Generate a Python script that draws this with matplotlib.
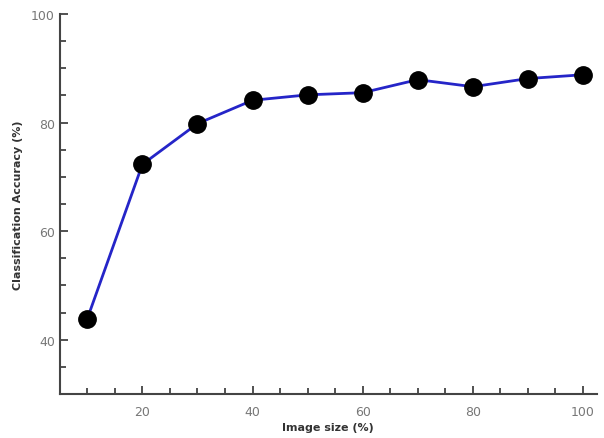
import matplotlib
matplotlib.use("Agg")
import matplotlib.pyplot as plt
from matplotlib.ticker import MultipleLocator

image_size = [10, 20, 30, 40, 50, 60, 70, 80, 90, 100]
accuracy = [43.9, 72.3, 79.8, 84.1, 85.1, 85.5, 87.9, 86.6, 88.1, 88.8]

fig = plt.figure(figsize=(6.04, 4.39), dpi=100)
ax = fig.add_axes([0.099, 0.100, 0.889, 0.866])

ax.plot(image_size, accuracy, color="#2525c8", linewidth=2,
        marker="o", markersize=12.5, markerfacecolor="black",
        markeredgecolor="black", zorder=3)

ax.set_xlim(5, 102.5)
ax.set_ylim(30, 100)
ax.xaxis.set_major_locator(MultipleLocator(20))
ax.xaxis.set_minor_locator(MultipleLocator(5))
ax.yaxis.set_major_locator(MultipleLocator(20))
ax.yaxis.set_minor_locator(MultipleLocator(5))

for side in ["top", "right"]:
    ax.spines[side].set_visible(False)
for side in ["left", "bottom"]:
    ax.spines[side].set_color("#444444")
    ax.spines[side].set_linewidth(1.5)

ax.tick_params(which="both", direction="in", color="#333333", width=1.2,
               labelcolor="#777777", labelsize=9)
ax.tick_params(which="major", length=6)
ax.tick_params(which="minor", length=4)
ax.tick_params(axis="x", pad=8)

ax.set_xlabel("Image size (%)", fontsize=8, fontweight="bold", color="#333333", labelpad=3)
ax.set_ylabel("Classification Accuracy (%)", fontsize=8, fontweight="bold", color="#333333", labelpad=6)

fig.savefig("out.png", dpi=100)
